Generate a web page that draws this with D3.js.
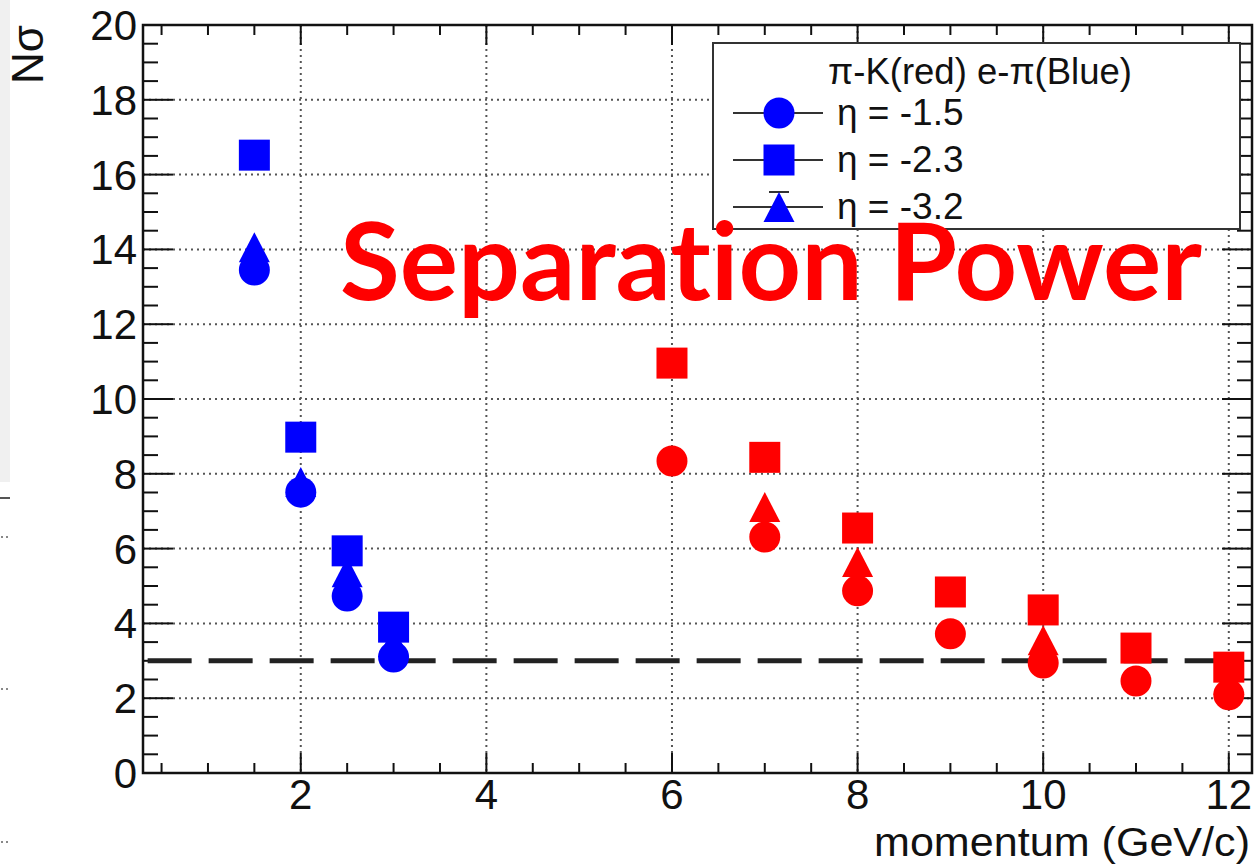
<!DOCTYPE html>
<html>
<head>
<meta charset="utf-8">
<script src="https://cdn.jsdelivr.net/npm/d3@7"></script>
<style>
  html, body { margin: 0; padding: 0; background: #fff; }
  svg { display: block; }
  .nolig { font-variant-ligatures: none; font-feature-settings: "liga" 0, "clig" 0; }
</style>
</head>
<body>
<svg id="chart" width="1254" height="865"></svg>
<script>
// ---------- data ----------
const xBlue = [1.5, 2, 2.5, 3];
const blueCircle = [13.45, 7.51, 4.73, 3.1];     // eta = -1.5
const blueSquare = [16.52, 8.98, 5.94, 3.9];     // eta = -2.3
const blueTriangle = [14.06, 7.78, 5.37, 3.5];   // eta = -3.2

const xRed = [6, 7, 8, 9, 10, 11, 12];
const redCircle = [8.34, 6.31, 4.87, 3.72, 2.94, 2.46, 2.09];
const redSquare = [10.96, 8.44, 6.55, 4.84, 4.36, 3.34, 2.83];
const redTriangle = [null, 7.11, 5.64, null, 3.55, null, 2.5];

const xTicks = [2, 4, 6, 8, 10, 12];
const yTicks = [0, 2, 4, 6, 8, 10, 12, 14, 16, 18, 20];
const xDomain = [0.3, 12.25];
const yDomain = [0, 20];
const thresholdY = 3;
const thresholdX = [0.35, 12.03];

const legendTitle = "π-K(red) e-π(Blue)";
const legendLabels = ["η = -1.5", "η = -2.3", "η = -3.2"];
const legendShapes = ["circle", "square", "triangle"];

// ---------- layout ----------
const svg = d3.select("#chart");
const L = 143, R = 1252, T = 25, B = 773;
const x = d3.scaleLinear().domain(xDomain).range([L, R]);
const y = d3.scaleLinear().domain(yDomain).range([B, T]);
const FONT = "'Liberation Sans', Arial, Helvetica, sans-serif";

// leftover slide artefacts on the left edge
svg.append("rect").attr("x", 0).attr("y", 0).attr("width", 10).attr("height", 482).attr("fill", "#f0f0f0");
svg.append("line").attr("x1", 0).attr("x2", 10).attr("y1", 498).attr("y2", 498).attr("stroke", "#555").attr("stroke-width", 2);
[537, 689, 842].forEach(py => {
  svg.append("line").attr("x1", 1).attr("x2", 8).attr("y1", py).attr("y2", py)
    .attr("stroke", "#888").attr("stroke-width", 2).attr("stroke-dasharray", "2,3");
});

// ---------- grid ----------
const grid = svg.append("g");
xTicks.forEach(v => {
  grid.append("line").attr("x1", x(v)).attr("x2", x(v)).attr("y1", T).attr("y2", B)
    .attr("stroke", "#555").attr("stroke-width", 2).attr("stroke-dasharray", "2,4");
});
yTicks.filter(v => v > yDomain[0] && v < yDomain[1]).forEach(v => {
  grid.append("line").attr("x1", L).attr("x2", R).attr("y1", y(v)).attr("y2", y(v))
    .attr("stroke", "#555").attr("stroke-width", 2).attr("stroke-dasharray", "2,4");
});

// ---------- axes (ROOT style ticks inside frame) ----------
const axG = svg.append("g").attr("stroke", "#111").attr("stroke-width", 2);
const xMinor = d3.range(0.5, 12.25, 0.5);
const yMinor = d3.range(0.5, 20, 0.5);
xMinor.forEach(v => {
  const major = Math.abs(v / 2 - Math.round(v / 2)) < 1e-6;
  const len = major ? 20 : 10;
  axG.append("line").attr("x1", x(v)).attr("x2", x(v)).attr("y1", B).attr("y2", B - len);
  axG.append("line").attr("x1", x(v)).attr("x2", x(v)).attr("y1", T).attr("y2", T + len);
});
yMinor.forEach(v => {
  const major = Math.abs(v / 2 - Math.round(v / 2)) < 1e-6;
  const len = major ? 30 : 15;
  axG.append("line").attr("x1", L).attr("x2", L + len).attr("y1", y(v)).attr("y2", y(v));
  axG.append("line").attr("x1", R).attr("x2", R - len).attr("y1", y(v)).attr("y2", y(v));
});
svg.append("rect").attr("x", L).attr("y", T).attr("width", R - L).attr("height", B - T)
  .attr("fill", "none").attr("stroke", "#111").attr("stroke-width", 2.5);

// tick labels
svg.append("g").selectAll("text").data(xTicks).join("text")
  .attr("x", d => x(d)).attr("y", 809).attr("text-anchor", "middle")
  .attr("font-family", FONT).attr("font-size", 42).attr("fill", "#111").text(d => d);
svg.append("g").selectAll("text").data(yTicks).join("text")
  .attr("x", 137).attr("y", d => y(d) + 15).attr("text-anchor", "end")
  .attr("font-family", FONT).attr("font-size", 42).attr("fill", "#111").text(d => d);

// axis titles
svg.append("text").attr("x", 1250).attr("y", 856).attr("text-anchor", "end")
  .attr("font-family", FONT).attr("font-size", 41.5).attr("fill", "#111")
  .attr("textLength", 376).attr("lengthAdjust", "spacingAndGlyphs")
  .text("momentum (GeV/c)");
svg.append("text").attr("transform", "translate(43,25) rotate(-90)").attr("text-anchor", "end")
  .attr("font-family", FONT).attr("font-size", 44).attr("fill", "#111").text("Nσ");

// threshold dashed line
svg.append("line").attr("x1", x(thresholdX[0])).attr("x2", x(thresholdX[1]))
  .attr("y1", y(thresholdY)).attr("y2", y(thresholdY))
  .attr("stroke", "#222").attr("stroke-width", 5).attr("stroke-dasharray", "44,17");

// ---------- markers ----------
function marker(g, shape, cx, cy, color) {
  if (shape === "circle") {
    g.append("circle").attr("cx", cx).attr("cy", cy).attr("r", 15.5).attr("fill", color);
  } else if (shape === "square") {
    g.append("rect").attr("x", cx - 15.5).attr("y", cy - 15.5).attr("width", 31).attr("height", 31).attr("fill", color);
  } else {
    g.append("path").attr("d", `M${cx},${cy - 15}L${cx - 15.5},${cy + 15}L${cx + 15.5},${cy + 15}Z`).attr("fill", color);
  }
}
const pts = svg.append("g");
function drawSeries(xs, vals, shape, color) {
  xs.forEach((xv, i) => {
    if (vals[i] == null) return;
    marker(pts, shape, x(xv), y(vals[i]), color);
  });
}
drawSeries(xBlue, blueTriangle, "triangle", "#0000ff");
drawSeries(xBlue, blueCircle, "circle", "#0000ff");
drawSeries(xBlue, blueSquare, "square", "#0000ff");
drawSeries(xRed, redTriangle, "triangle", "#ff0000");
drawSeries(xRed, redCircle, "circle", "#ff0000");
drawSeries(xRed, redSquare, "square", "#ff0000");

// ---------- legend ----------
const lg = svg.append("g");
lg.append("rect").attr("x", 713).attr("y", 43).attr("width", 527).attr("height", 186)
  .attr("fill", "#fff").attr("stroke", "#333").attr("stroke-width", 2);
lg.append("text").attr("x", 980).attr("y", 84).attr("text-anchor", "middle")
  .attr("font-family", FONT).attr("font-size", 36.5).attr("fill", "#111").text(legendTitle);
const rowY = [113, 160, 207];
legendLabels.forEach((lab, i) => {
  const cy = rowY[i];
  lg.append("line").attr("x1", 733).attr("x2", 823).attr("y1", cy).attr("y2", cy)
    .attr("stroke", "#333").attr("stroke-width", 2);
  if (legendShapes[i] === "triangle") {
    lg.append("line").attr("x1", 769).attr("x2", 789).attr("y1", cy - 15).attr("y2", cy - 15)
      .attr("stroke", "#333").attr("stroke-width", 2);
  }
  marker(lg, legendShapes[i], 779, cy, "#0000ff");
  lg.append("text").attr("x", 837).attr("y", cy + 12)
    .attr("font-family", FONT).attr("font-size", 37).attr("fill", "#111").text(lab);
});

// ---------- overlay title ----------
svg.append("text").attr("class", "nolig").attr("x", 340).attr("y", 300)
  .attr("font-family", "Lato, 'Open Sans', sans-serif").attr("font-weight", "bold")
  .attr("font-size", 108).attr("fill", "#ff0000")
  .attr("textLength", 862).attr("lengthAdjust", "spacingAndGlyphs")
  .text("Separation Power");
</script>
</body>
</html>
